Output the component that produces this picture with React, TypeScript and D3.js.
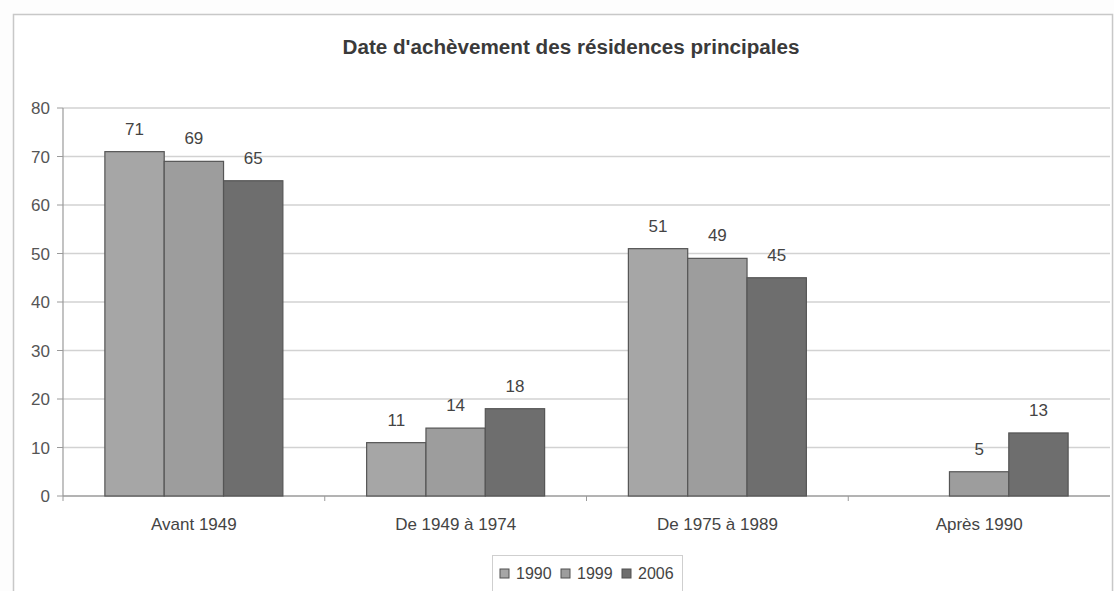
import React from "react";
import * as d3 from "d3";

const categories = ["Avant 1949", "De 1949 à 1974", "De 1975 à 1989", "Après 1990"];
const seriesNames = ["1990", "1999", "2006"];
const values1990 = [71, 11, 51, null];
const values1999 = [69, 14, 49, 5];
const values2006 = [65, 18, 45, 13];
const yTicks = [0, 10, 20, 30, 40, 50, 60, 70, 80];
const colors = ["#a6a6a6", "#9d9d9d", "#6e6e6e"];

export default function App() {
  const W = 1114, H = 591;
  const left = 63, right = 1110, top = 108, bottom = 496;
  const series = [values1990, values1999, values2006];
  const x0 = d3.scaleBand().domain(categories).range([left, right]).paddingInner(0).paddingOuter(0);
  const y = d3.scaleLinear().domain([0, 80]).range([bottom, top]);
  const groupW = x0.bandwidth() * 0.68;
  const x1 = d3.scaleBand().domain(seriesNames).range([0, groupW]).padding(0);
  const font = "Arial, 'Liberation Sans', sans-serif";
  return (
    <svg width={W} height={H} style={{ position: "absolute", left: 0, top: 0, background: "#fdfdfd" }} fontFamily={font}>
      <rect x={0} y={0} width={W} height={H} fill="#fdfdfd" />
      <rect x={13.5} y={14.5} width={1099} height={600} fill="#ffffff" stroke="#c8c8c8" strokeWidth={1.5} />
      <text x={571} y={54} textAnchor="middle" fontSize={19.5} fontWeight="bold" fill="#3a3a3a" textLength={457} lengthAdjust="spacingAndGlyphs">
        Date d'achèvement des résidences principales
      </text>
      {yTicks.map((t) => (
        <g key={t}>
          <line x1={left} x2={right} y1={y(t)} y2={y(t)} stroke={t === 0 ? "#9a9a9a" : "#d2d2d2"} strokeWidth={1.5} />
          <line x1={left - 6} x2={left} y1={y(t)} y2={y(t)} stroke="#9a9a9a" />
          <text x={50} y={y(t) + 6} textAnchor="end" fontSize={17} fill="#555">{t}</text>
        </g>
      ))}
      <line x1={left} x2={left} y1={top} y2={bottom} stroke="#9a9a9a" strokeWidth={1.2} />
      {categories.map((c, i) => (
        <line key={"tk" + i} x1={x0(c)! } x2={x0(c)!} y1={bottom} y2={bottom + 5} stroke="#9a9a9a" />
      ))}
      {categories.map((c, ci) => {
        const gx = x0(c)! + (x0.bandwidth() - groupW) / 2;
        return (
          <g key={c}>
            {series.map((s, si) => {
              const v = s[ci];
              if (v == null) return null;
              const bx = gx + x1(seriesNames[si])!;
              return (
                <g key={si}>
                  <rect x={bx} y={y(v)} width={x1.bandwidth()} height={bottom - y(v)} fill={colors[si]} stroke="#555" strokeWidth={1.2} />
                  <text x={bx + x1.bandwidth() / 2} y={y(v) - 17} textAnchor="middle" fontSize={17} fill="#444">{v}</text>
                </g>
              );
            })}
            <text x={x0(c)! + x0.bandwidth() / 2} y={530} textAnchor="middle" fontSize={17} fill="#444">{c}</text>
          </g>
        );
      })}
      <rect x={492.5} y={555.5} width={190} height={40} fill="#fff" stroke="#cfcfcf" />
      {seriesNames.map((n, i) => {
        const lx = 500 + i * 61;
        return (
          <g key={n}>
            <rect x={lx} y={569} width={9} height={9} fill={colors[i]} stroke="#505050" />
            <text x={lx + 16} y={579} fontSize={16} fill="#444">{n}</text>
          </g>
        );
      })}
    </svg>
  );
}
